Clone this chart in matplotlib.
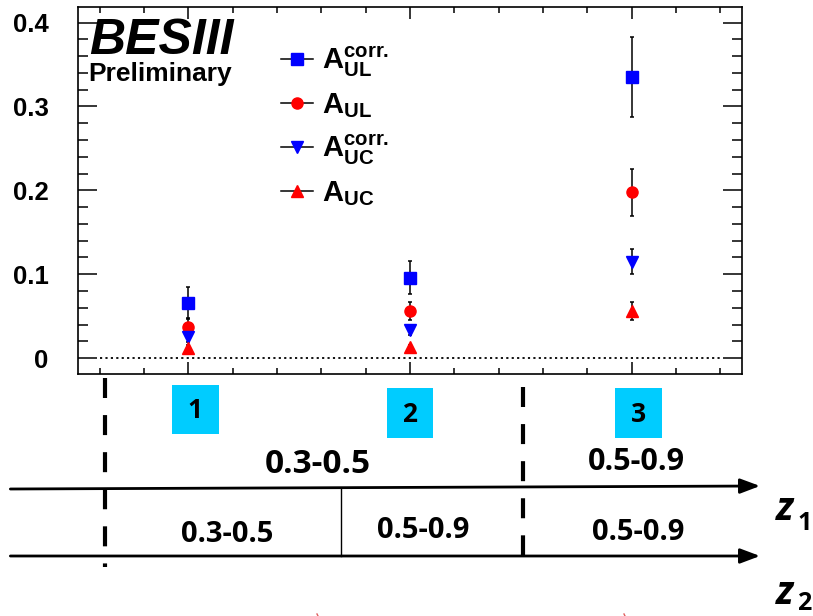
import numpy as np
import matplotlib

matplotlib.use("Agg")
import matplotlib.pyplot as plt
import matplotlib.transforms as mtransforms
from matplotlib.lines import Line2D
from matplotlib.patches import Rectangle, FancyArrowPatch

plt.rcParams.update({
    "font.family": "Liberation Sans",
    "mathtext.fontset": "custom",
    "mathtext.rm": "Liberation Sans:bold",
    "mathtext.bf": "Liberation Sans:bold",
    "mathtext.it": "Liberation Sans:bold:italic",
})

# asymmetries per (z1, z2) bin
bins = [1, 2, 3]
a_ul_corr = [0.066, 0.096, 0.335]
a_ul_corr_err = [0.019, 0.020, 0.048]
a_ul = [0.037, 0.056, 0.198]
a_ul_err = [0.011, 0.011, 0.028]
a_uc_corr = [0.025, 0.034, 0.115]
a_uc_corr_err = [0.006, 0.006, 0.015]
a_uc = [0.012, 0.013, 0.056]
a_uc_err = [0.003, 0.003, 0.011]

y_ticks = [0, 0.1, 0.2, 0.3, 0.4]
y_ticklabels = ["0", "0.1", "0.2", "0.3", "0.4"]

# bin scheme shown under the plot
bin_ids = ["1", "2", "3"]
z1_ranges = ["0.3-0.5", "0.5-0.9"]
z2_ranges = ["0.3-0.5", "0.5-0.9", "0.5-0.9"]

series = [
    (a_ul_corr, a_ul_corr_err, "s", "#0000ff",
     r"$\mathbf{A}^{\mathbf{corr.}}_{\mathbf{UL}}$"),
    (a_ul, a_ul_err, "o", "#ff0000", r"$\mathbf{A}_{\mathbf{UL}}$"),
    (a_uc_corr, a_uc_corr_err, "v", "#0000ff",
     r"$\mathbf{A}^{\mathbf{corr.}}_{\mathbf{UC}}$"),
    (a_uc, a_uc_err, "^", "#ff0000", r"$\mathbf{A}_{\mathbf{UC}}$"),
]

SCHEME_FONT = "Open Sans"

W, H = 813, 616
fig = plt.figure(figsize=(W / 100, H / 100), dpi=100)
ax = fig.add_axes([77.7 / W, 1 - 374 / H, (742.3 - 77.7) / W, (374 - 6.7) / H])

handles, labels = [], []
for vals, errs, m, c, lab in series:
    ax.errorbar(bins, vals, yerr=errs, fmt=m, ms=8, mfc=c, mec=c,
                ecolor="black", elinewidth=1.1, capsize=1.6, capthick=1.1,
                zorder=3)
    handles.append(Line2D([], [], color="black", lw=1.1, marker=m, ms=8,
                          mfc=c, mec=c))
    labels.append(lab)

ax.hlines(0, 0.6, 3.4, colors="black", linestyles=(0, (1.2, 1.8)), lw=1.3)

ax.set_xlim(0.5, 3.5)
ax.set_ylim(-0.019, 0.419)
ax.set_xticks(bins)
ax.set_xticks(np.arange(0.6, 3.45, 0.2), minor=True)
ax.set_yticks(y_ticks)
ax.set_yticklabels(y_ticklabels, fontweight="bold")
ax.set_yticks(np.arange(0, 0.419, 0.02), minor=True)
ax.tick_params(which="both", direction="in", top=True, right=True,
               width=1.1, labelbottom=False)
ax.tick_params(axis="x", which="major", length=8.5)
ax.tick_params(axis="x", which="minor", length=4.2)
ax.tick_params(axis="y", which="major", length=13.5, pad=21, labelsize=18.5)
ax.tick_params(axis="y", which="minor", length=7)
for s in ax.spines.values():
    s.set_linewidth(1.2)

ax.legend(handles, labels, loc="upper left",
          bbox_to_anchor=(281 / W, 1 - 45 / H), bbox_transform=fig.transFigure,
          frameon=False, fontsize=21, handlelength=1.1, handletextpad=0.3,
          borderpad=0, borderaxespad=0, labelspacing=0.42, numpoints=1)

fig.text(89 / W, 1 - 54 / H, "BESIII", fontsize=36, fontweight="bold",
         style="italic", va="baseline")
fig.text(88 / W, 1 - 81 / H, "Preliminary", fontsize=19, fontweight="bold",
         va="baseline")

# overlay in pixel units (y down) for the bin scheme
ann = fig.add_axes([0, 0, 1, 1])
ann.set_xlim(0, W)
ann.set_ylim(H, 0)
ann.axis("off")
blend = mtransforms.blended_transform_factory(ax.transData, ann.transData)

box_x = [1.03, 2.0, 3.03]
box_y = [(385, 434), (388, 438), (388, 438)]
for xc, lab, (y0, y1) in zip(box_x, bin_ids, box_y):
    ann.add_patch(Rectangle((xc - 0.106, y0), 0.212, y1 - y0, transform=blend,
                            facecolor="#00ccff", edgecolor="none",
                            clip_on=False))
    ann.text(xc, (y0 + y1) / 2 + 1, lab, transform=blend, ha="center",
             va="center", fontsize=19, fontweight="bold", family=SCHEME_FONT)

# bin boundaries
for xb, (y0, y1) in [(0.625, (378, 567)), (2.51, (387, 557))]:
    ann.plot([xb, xb], [y0, y1], transform=blend, color="black", lw=3,
             ls=(0, (4.8, 4.1)), dash_capstyle="butt", clip_on=False)
ann.plot([1.69, 1.69], [488, 556], transform=blend, color="black", lw=1,
         clip_on=False)

# z1 / z2 axes
for (ya, yb) in [(489, 486), (556, 556)]:
    ann.add_patch(FancyArrowPatch((0.196, ya), (3.58, yb), transform=blend,
                                  arrowstyle="-|>,head_length=1.2,head_width=0.45",
                                  mutation_scale=10, lw=2, color="black",
                                  shrinkA=0, shrinkB=0, clip_on=False))

for xc, lab, fs, yb in zip([1.585, 3.02], z1_ranges, [24, 22], [473, 470]):
    ann.text(xc, yb, lab, transform=blend, ha="center", va="baseline",
             fontsize=fs, fontweight="bold", family=SCHEME_FONT)
for xc, lab, yb in zip([1.175, 2.06, 3.03], z2_ranges, [542, 538, 540]):
    ann.text(xc, yb, lab, transform=blend, ha="center", va="baseline",
             fontsize=21, fontweight="bold", family=SCHEME_FONT)

for yb, sub, dy in [(520, "1", 10), (604, "2", 6)]:
    ann.text(776, yb, "z", fontsize=28, fontweight="bold", style="italic",
             family=SCHEME_FONT, va="baseline")
    ann.text(797, yb + dy, sub, fontsize=18, fontweight="bold",
             family=SCHEME_FONT, va="baseline")

for xr in [317, 624]:
    ann.plot([xr, xr + 1], [614, 616], color="#e06060", lw=1)

fig.savefig("out.png", dpi=100)
